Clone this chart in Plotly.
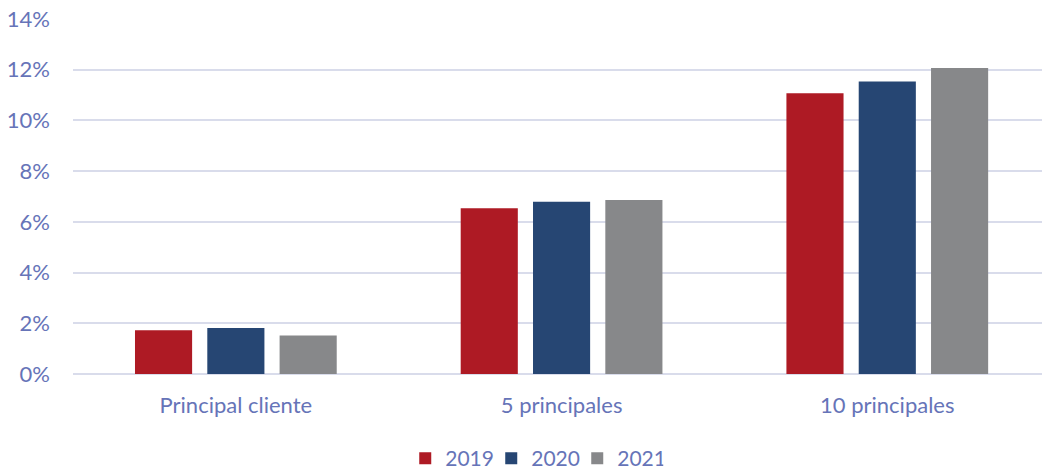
import plotly.graph_objects as go

categories = ["Principal cliente", "5 principales", "10 principales"]
years = ["2019", "2020", "2021"]
values_2019 = [1.73, 6.54, 11.07]
values_2020 = [1.81, 6.79, 11.54]
values_2021 = [1.52, 6.86, 12.07]
colors = ["#AE1A24", "#264673", "#87888A"]
y_ticks = [0, 2, 4, 6, 8, 10, 12, 14]
y_tick_labels = [f"{t}%" for t in y_ticks]

TEXT = "#6674B8"
FONT = "Lato, 'Open Sans', sans-serif"
SIZE = 22

fig = go.Figure()
for name, vals, col in zip(years, [values_2019, values_2020, values_2021], colors):
    fig.add_trace(go.Bar(
        x=categories, y=vals, name=name,
        marker=dict(color=col, line=dict(width=0)),
    ))

fig.update_layout(
    width=1042, height=471,
    margin=dict(l=73, r=0, t=19, b=97, autoexpand=False),
    paper_bgcolor="white", plot_bgcolor="white",
    barmode="group", bargap=0.334, bargroupgap=0.21,
    font=dict(family=FONT, color=TEXT, size=SIZE),
    showlegend=True,
    legend=dict(orientation="h", x=0.476, xanchor="center", y=-0.238, yanchor="middle",
                font=dict(size=21, color=TEXT), itemwidth=30, traceorder="normal",
                entrywidth=41, entrywidthmode="pixels"),
    xaxis=dict(range=[-0.5, 2.475], showgrid=False, zeroline=False, showline=False,
               ticks="", ticklabelstandoff=16, tickfont=dict(size=SIZE, color=TEXT)),
    yaxis=dict(range=[0, 14], tickvals=y_ticks, ticktext=y_tick_labels,
               showgrid=True, gridcolor="#D9DCEB", gridwidth=1.5,
               zeroline=True, zerolinecolor="#D9DCEB", zerolinewidth=1.5,
               showline=False, ticks="", ticklabelstandoff=22,
               tickfont=dict(size=SIZE, color=TEXT)),
)

fig.write_html("out.html")
